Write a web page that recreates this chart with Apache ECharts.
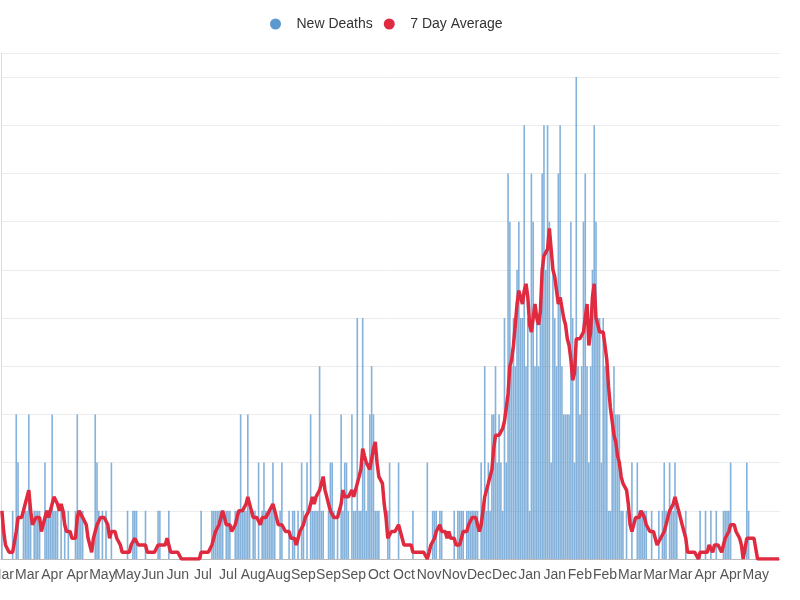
<!DOCTYPE html>
<html>
<head>
<meta charset="utf-8">
<script src="https://cdn.jsdelivr.net/npm/echarts@6.0.0/dist/echarts.min.js"></script>
<style>
html, body { margin: 0; padding: 0; background: #fff; }
#deathsChart { width: 800px; height: 600px; }
</style>
</head>
<body>
<div id="deathsChart"></div>
<script>
// first day of the series, one category per day
var startDate = [2020, 2, 17];
var monthNames = ['Jan', 'Feb', 'Mar', 'Apr', 'May', 'Jun', 'Jul', 'Aug', 'Sep', 'Oct', 'Nov', 'Dec'];

// daily new deaths, one row per two weeks (one row = one x tick)
var newDeaths = [
	[1,0,0,0,0,0,1,0,3,2,0,0,1,1],
	[1,3,1,0,1,1,1,1,0,0,2,1,1,1],
	[3,1,1,1,0,1,0,1,0,1,0,0,0,1],
	[3,1,1,1,0,0,0,0,0,0,3,2,1,0],
	[1,0,1,0,0,2,0,0,0,0,0,0,0,0],
	[1,0,0,1,1,1,0,0,0,0,1,0,0,0],
	[0,0,0,1,1,0,0,0,0,1,0,0,0,0],
	[0,0,0,0,0,0,0,0,0,0,0,0,0,1],
	[0,0,0,0,0,1,1,1,1,1,1,1,0,1],
	[1,1,0,0,1,1,1,3,1,1,1,3,1,0],
	[1,1,0,2,0,1,2,1,1,1,1,2,1,0],
	[0,1,2,0,0,0,1,0,1,1,0,1,0,2],
	[1,0,2,0,3,1,1,1,1,4,1,1,0,0],
	[1,2,2,1,0,1,0,3,1,2,2,1,0,3],
	[1,1,5,1,1,5,2,1,2,3,4,3,1,1],
	[1,0,0,0,0,1,2,0,0,0,0,2,0,0],
	[0,0,0,0,0,1,0,0,0,0,0,0,0,2],
	[0,0,1,1,1,0,1,1,0,0,0,0,0,0],
	[1,0,1,1,1,1,0,1,1,1,1,1,1,1],
	[0,2,1,4,1,2,1,3,3,4,2,3,2,1],
	[5,2,8,7,4,5,4,6,7,5,5,9,4,5],
	[1,8,7,4,5,4,5,8,9,6,9,7,2,6],
	[5,4,8,9,4,3,3,3,3,7,5,2,10,4],
	[3,4,7,8,4,2,4,6,9,7,5,5,2,5],
	[4,4,1,1,3,4,3,3,3,1,1,0,1,0],
	[0,2,0,0,2,1,1,1,1,1,0,0,1,0],
	[0,0,1,0,1,2,1,0,2,1,1,2,1,0],
	[0,0,0,1,0,0,0,0,0,0,0,1,0,0],
	[1,0,0,1,0,0,1,0,0,0,1,1,1,1],
	[2,0,0,0,0,0,0,0,0,2,1,0,0,0],
	[0,0,0,0,0,0,0,0,0,0,0,0,0,0]
];

// 7 day average, same rows
var sevenDayAvg = [
	[1.0,0.57,0.29,0.29,0.14,0.14,0.14,0.14,0.57,0.86,0.86,0.86,1.0,1.0],
	[1.29,1.43,1.0,0.71,0.71,0.86,0.86,0.86,0.57,0.57,0.86,1.0,0.86,1.0],
	[1.14,1.29,1.29,1.14,1.0,1.14,1.0,0.71,0.57,0.57,0.57,0.43,0.43,0.43],
	[0.86,1.0,1.0,0.86,0.86,0.71,0.43,0.29,0.14,0.43,0.57,0.71,0.71,0.86],
	[0.86,0.86,0.86,0.71,0.43,0.57,0.57,0.57,0.43,0.43,0.29,0.14,0.14,0.14],
	[0.14,0.14,0.29,0.29,0.43,0.43,0.29,0.29,0.29,0.29,0.29,0.14,0.14,0.14],
	[0.14,0.14,0.14,0.29,0.29,0.29,0.29,0.29,0.43,0.29,0.14,0.14,0.14,0.14],
	[0.14,0.14,0,0,0,0,0,0,0,0,0,0,0,0.14],
	[0.14,0.14,0.14,0.14,0.14,0.29,0.43,0.57,0.57,0.71,0.86,1.0,0.86,0.71],
	[0.71,0.71,0.57,0.57,0.71,0.86,1.0,1.0,1.0,1.0,1.14,1.29,1.14,1.0],
	[0.86,0.86,0.86,0.86,0.71,0.86,0.86,0.86,0.86,1.0,1.0,1.14,1.0,0.86],
	[0.71,0.71,0.71,0.71,0.57,0.57,0.57,0.43,0.43,0.43,0.29,0.43,0.57,0.57],
	[0.71,0.86,0.86,1.0,1.14,1.29,1.14,1.29,1.29,1.43,1.57,1.71,1.43,1.29],
	[1.14,1.0,1.0,0.86,0.86,0.86,1.0,1.14,1.43,1.29,1.29,1.29,1.29,1.43],
	[1.29,1.43,1.57,1.71,1.86,2.29,2.14,2.0,2.0,1.86,1.86,2.29,2.43,2.0],
	[1.71,1.71,1.57,1.14,0.86,0.43,0.43,0.57,0.57,0.57,0.57,0.71,0.57,0.43],
	[0.29,0.29,0.29,0.29,0.29,0.14,0.14,0.14,0.14,0.14,0.14,0.14,0.14,0],
	[0.14,0.29,0.29,0.43,0.57,0.57,0.71,0.57,0.57,0.57,0.43,0.57,0.43,0.43],
	[0.43,0.29,0.29,0.29,0.43,0.57,0.57,0.57,0.71,0.71,0.86,0.86,0.86,0.71],
	[0.57,0.71,1.0,1.29,1.43,1.57,1.57,1.86,2.29,2.57,2.57,2.57,2.57,2.71],
	[2.86,3.14,3.43,4.0,4.14,4.43,4.86,5.29,5.57,5.57,5.29,5.57,5.71,5.43],
	[4.86,4.71,4.71,5.29,5.0,4.86,5.14,6.0,6.29,6.29,6.43,6.86,6.43,6.0],
	[5.86,5.57,5.29,5.43,5.43,5.0,4.86,4.57,4.43,4.14,3.71,3.86,4.57,4.57],
	[4.57,4.57,4.71,5.0,5.29,4.43,4.71,5.43,5.71,5.0,4.86,4.71,4.71,4.71],
	[4.71,4.14,3.57,3.14,2.86,2.57,2.43,2.14,2.0,1.71,1.57,1.57,1.43,1.14],
	[0.71,0.57,0.71,0.86,0.86,0.86,1.0,1.0,0.86,0.71,0.71,0.57,0.57,0.57],
	[0.43,0.29,0.29,0.43,0.43,0.57,0.71,0.86,1.0,1.0,1.14,1.29,1.14,1.0],
	[0.86,0.71,0.57,0.43,0.14,0.14,0.14,0.14,0.14,0.14,0,0.14,0.14,0.14],
	[0.14,0.14,0.29,0.29,0.14,0.29,0.29,0.29,0.29,0.14,0.29,0.43,0.43,0.57],
	[0.71,0.71,0.71,0.57,0.57,0.43,0.29,0,0,0.43,0.43,0.43,0.43,0.43],
	[0.43,0,0,0,0,0,0,0,0,0,0,0,0,0]
];

var barColor = '#5b98cf';
var lineColor = '#e02a40';

/**
 * 把按两周分行的数据拼成一条
 */
function flatten(rows) {
	var out = [];
	for (var i = 0; i < rows.length; i++) {
		out = out.concat(rows[i]);
	}
	return out;
}

var deathsData = flatten(newDeaths);
var avgData = flatten(sevenDayAvg);

var days = [];
var d = new Date(Date.UTC(startDate[0], startDate[1], startDate[2]));
for (var i = 0; i < deathsData.length; i++) {
	days.push(d.toISOString().slice(0, 10));
	d.setUTCDate(d.getUTCDate() + 1);
}

var myChart = echarts.init(document.getElementById('deathsChart'));

var option = {
	animation: false,
	textStyle: {
		fontFamily: '"Helvetica Neue", Helvetica, "Liberation Sans", Arial, sans-serif'
	},
	legend: {
		left: 265,
		top: 12,
		icon: 'circle',
		itemWidth: 32,
		itemHeight: 11,
		itemGap: 11,
		textStyle: {
			fontSize: 14,
			color: '#333'
		},
		data: [
			{ name: 'New Deaths', itemStyle: { color: barColor, opacity: 1 } },
			{ name: '7 Day Average', itemStyle: { color: lineColor } }
		]
	},
	grid: {
		left: 1,
		right: 20,
		top: 53,
		bottom: 41,
		containLabel: false,
		outerBoundsMode: 'none'
	},
	xAxis: {
		type: 'category',
		data: days,
		boundaryGap: true,
		axisLine: {
			lineStyle: { color: '#bbb' }
		},
		axisTick: {
			interval: 13,
			length: 5,
			lineStyle: { color: '#999' }
		},
		axisLabel: {
			interval: 13,
			color: '#555',
			fontSize: 14,
			margin: 9,
			formatter: function (value) {
				return monthNames[parseInt(value.slice(5, 7), 10) - 1];
			}
		},
		splitLine: { show: false }
	},
	yAxis: {
		type: 'value',
		min: 0,
		max: 10.5,
		interval: 1,
		axisLabel: { show: false },
		axisTick: { show: false },
		axisLine: {
			show: true,
			lineStyle: { color: '#ddd' }
		},
		splitLine: {
			lineStyle: { color: '#ececec' }
		}
	},
	series: [
		{
			name: 'New Deaths',
			type: 'bar',
			barCategoryGap: '10%',
			itemStyle: {
				color: barColor,
				opacity: 0.75
			},
			data: deathsData
		},
		{
			name: '7 Day Average',
			type: 'line',
			showSymbol: false,
			symbol: 'none',
			lineStyle: {
				width: 3.5,
				color: lineColor
			},
			itemStyle: { color: lineColor },
			data: avgData
		}
	]
};

myChart.setOption(option);
</script>
</body>
</html>
